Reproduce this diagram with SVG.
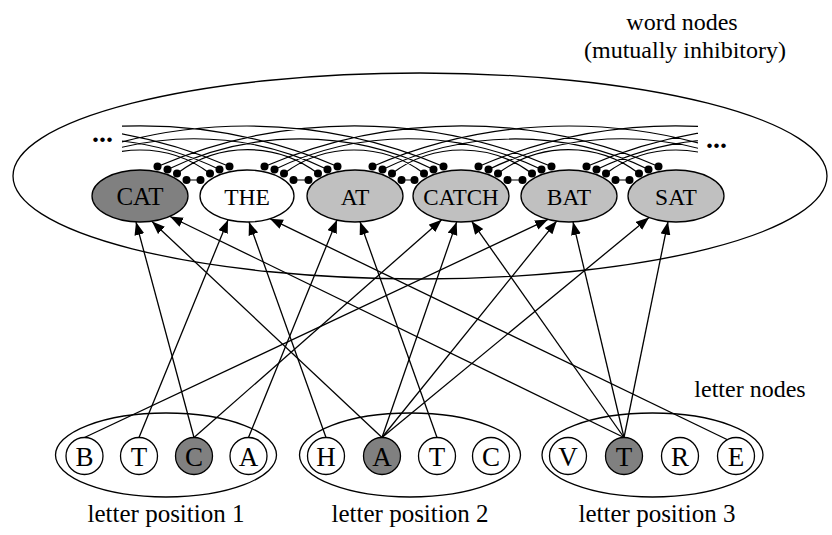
<svg xmlns="http://www.w3.org/2000/svg" width="832" height="535" viewBox="0 0 832 535">
<style>
.t{font-family:"Liberation Serif","Times New Roman",serif;fill:#000}
.ln{fill:none;stroke:#000;stroke-width:1.3}
.arc{fill:none;stroke:#000;stroke-width:1.2}
.dot{fill:#000}
.wn{stroke:#000;stroke-width:1.3}
.lc{stroke:#000;stroke-width:1.3}
.dark{fill:#808080}
.light{fill:#c0c0c0}
.white{fill:#fff}
.lbl{font-size:25px;text-anchor:middle}
</style>
<defs>
<marker id="ah" markerUnits="userSpaceOnUse" markerWidth="14" markerHeight="11" refX="13" refY="5" orient="auto">
<path d="M0,0 L13,5 L0,10 z" fill="#000"/>
</marker>
<clipPath id="band"><rect x="122" y="0" width="576" height="535"/></clipPath>
</defs>
<rect width="832" height="535" fill="#fff"/>
<g id="word-layer">
<ellipse cx="420" cy="176" rx="407" ry="103" fill="none" stroke="#000" stroke-width="1.3"/>
<text class="t" x="682" y="30" font-size="24" text-anchor="middle">word nodes</text>
<text class="t" x="685" y="58" font-size="24" text-anchor="middle">(mutually inhibitory)</text>
<text class="t" x="92" y="142" font-size="28" font-weight="bold">...</text>
<text class="t" x="706" y="148" font-size="28" font-weight="bold">...</text>
</g>
<g id="inhibitory">
<path class="arc" d="M186.5 180H200.5M293.5 180H308.5M401.5 180H414.5M507.5 180H522.5M615.5 180H629.5"/>
<g clip-path="url(#band)">
<path class="arc" d="M70 173.5A116 116 0 0 1 210 173.5M177 173.5A116 116 0 0 1 318 173.5M284 173.5A116 116 0 0 1 424 173.5M392 173.5A116 116 0 0 1 532 173.5M498 173.5A116 116 0 0 1 639 173.5M606 173.5A116 116 0 0 1 746 173.5"/>
<path class="arc" d="M-46.5 169.5A305 305 0 0 1 219.5 169.5M60.5 169.5A305 305 0 0 1 327.5 169.5M167.5 169.5A305 305 0 0 1 433.5 169.5M274.5 169.5A305 305 0 0 1 541.5 169.5M382.5 169.5A305 305 0 0 1 648.5 169.5M488.5 169.5A305 305 0 0 1 755.5 169.5M596.5 169.5A305 305 0 0 1 862.5 169.5"/>
<path class="arc" d="M-163.5 166.5A497 497 0 0 1 229.5 166.5M-56.5 166.5A497 497 0 0 1 337.5 166.5M50.5 166.5A497 497 0 0 1 443.5 166.5M157.5 166.5A497 497 0 0 1 551.5 166.5M264.5 166.5A497 497 0 0 1 658.5 166.5M372.5 166.5A497 497 0 0 1 765.5 166.5M478.5 166.5A497 497 0 0 1 872.5 166.5M586.5 166.5A497 497 0 0 1 979.5 166.5"/>
</g>
<g class="dot">
<circle cx="186.5" cy="180" r="4"/><circle cx="177" cy="173.5" r="4"/><circle cx="167.5" cy="169.5" r="4"/><circle cx="157.5" cy="166.5" r="4"/>
<circle cx="200.5" cy="180" r="4"/><circle cx="210" cy="173.5" r="4"/><circle cx="219.5" cy="169.5" r="4"/><circle cx="229.5" cy="166.5" r="4"/>
<circle cx="293.5" cy="180" r="4"/><circle cx="284" cy="173.5" r="4"/><circle cx="274.5" cy="169.5" r="4"/><circle cx="264.5" cy="166.5" r="4"/>
<circle cx="308.5" cy="180" r="4"/><circle cx="318" cy="173.5" r="4"/><circle cx="327.5" cy="169.5" r="4"/><circle cx="337.5" cy="166.5" r="4"/>
<circle cx="401.5" cy="180" r="4"/><circle cx="392" cy="173.5" r="4"/><circle cx="382.5" cy="169.5" r="4"/><circle cx="372.5" cy="166.5" r="4"/>
<circle cx="414.5" cy="180" r="4"/><circle cx="424" cy="173.5" r="4"/><circle cx="433.5" cy="169.5" r="4"/><circle cx="443.5" cy="166.5" r="4"/>
<circle cx="507.5" cy="180" r="4"/><circle cx="498" cy="173.5" r="4"/><circle cx="488.5" cy="169.5" r="4"/><circle cx="478.5" cy="166.5" r="4"/>
<circle cx="522.5" cy="180" r="4"/><circle cx="532" cy="173.5" r="4"/><circle cx="541.5" cy="169.5" r="4"/><circle cx="551.5" cy="166.5" r="4"/>
<circle cx="615.5" cy="180" r="4"/><circle cx="606" cy="173.5" r="4"/><circle cx="596.5" cy="169.5" r="4"/><circle cx="586.5" cy="166.5" r="4"/>
<circle cx="629.5" cy="180" r="4"/><circle cx="639" cy="173.5" r="4"/><circle cx="648.5" cy="169.5" r="4"/><circle cx="658.5" cy="166.5" r="4"/>
</g>
</g>
<g id="w-CAT"><ellipse class="wn dark" cx="140" cy="196" rx="48" ry="26"/><text class="t" x="140" y="204.5" font-size="25" text-anchor="middle">CAT</text></g>
<g id="w-THE"><ellipse class="wn white" cx="247" cy="196" rx="47" ry="26"/><text class="t" x="247" y="204.5" font-size="23.5" text-anchor="middle">THE</text></g>
<g id="w-AT"><ellipse class="wn light" cx="355" cy="196" rx="48" ry="26"/><text class="t" x="355" y="204.5" font-size="23.5" text-anchor="middle">AT</text></g>
<g id="w-CATCH"><ellipse class="wn light" cx="461" cy="196" rx="48" ry="26"/><text class="t" x="461" y="204.5" font-size="23" text-anchor="middle">CATCH</text></g>
<g id="w-BAT"><ellipse class="wn light" cx="569" cy="196" rx="48" ry="26"/><text class="t" x="569" y="204.5" font-size="23.5" text-anchor="middle">BAT</text></g>
<g id="w-SAT"><ellipse class="wn light" cx="676" cy="196" rx="48" ry="26"/><text class="t" x="676" y="204.5" font-size="23.5" text-anchor="middle">SAT</text></g>
<g id="connectors" class="ln" marker-end="url(#ah)">
<path d="M194 437.5L136 222"/>
<path d="M382 437.5L152 221.5"/>
<path d="M624 437.5L170 216.5"/>
<path d="M139 437.5L228 220"/>
<path d="M326 437.5L249 222"/>
<path d="M728 440L270 218.7"/>
<path d="M248.5 437.5L337 220"/>
<path d="M437 437.5L360 221.8"/>
<path d="M194 437.5L441.7 219.8"/>
<path d="M382 437.5L456.7 221.9"/>
<path d="M624 437.5L471.7 221.3"/>
<path d="M84.5 437.5L548 219.4"/>
<path d="M382 437.5L556.7 221.1"/>
<path d="M624 437.5L573 221.9"/>
<path d="M382 437.5L649 217.5"/>
<path d="M624 437.5L668 221.7"/>
</g>
<g id="pos1">
<ellipse cx="166" cy="455" rx="110.5" ry="42" fill="none" stroke="#000" stroke-width="1.3"/>
<g id="p1-B"><circle class="lc white" cx="84.5" cy="456" r="18.5"/><text class="t" x="84.5" y="465.5" font-size="27" text-anchor="middle">B</text></g>
<g id="p1-T"><circle class="lc white" cx="139" cy="456" r="18.5"/><text class="t" x="139" y="465.5" font-size="27" text-anchor="middle">T</text></g>
<g id="p1-C"><circle class="lc dark" cx="194" cy="456" r="18.5"/><text class="t" x="194" y="465.5" font-size="27" text-anchor="middle">C</text></g>
<g id="p1-A"><circle class="lc white" cx="248.5" cy="456" r="18.5"/><text class="t" x="248.5" y="465.5" font-size="27" text-anchor="middle">A</text></g>
<text class="t lbl" x="166" y="522">letter position 1</text>
</g>
<g id="pos2">
<ellipse cx="410" cy="455" rx="110.5" ry="42" fill="none" stroke="#000" stroke-width="1.3"/>
<g id="p2-H"><circle class="lc white" cx="326" cy="456" r="18.5"/><text class="t" x="326" y="465.5" font-size="27" text-anchor="middle">H</text></g>
<g id="p2-A"><circle class="lc dark" cx="382" cy="456" r="18.5"/><text class="t" x="382" y="465.5" font-size="27" text-anchor="middle">A</text></g>
<g id="p2-T"><circle class="lc white" cx="437" cy="456" r="18.5"/><text class="t" x="437" y="465.5" font-size="27" text-anchor="middle">T</text></g>
<g id="p2-C"><circle class="lc white" cx="491" cy="456" r="18.5"/><text class="t" x="491" y="465.5" font-size="27" text-anchor="middle">C</text></g>
<text class="t lbl" x="410" y="522">letter position 2</text>
</g>
<g id="pos3">
<ellipse cx="652.5" cy="455" rx="110.5" ry="42" fill="none" stroke="#000" stroke-width="1.3"/>
<g id="p3-V"><circle class="lc white" cx="568" cy="456" r="18.5"/><text class="t" x="568" y="465.5" font-size="27" text-anchor="middle">V</text></g>
<g id="p3-T"><circle class="lc dark" cx="624" cy="456" r="18.5"/><text class="t" x="624" y="465.5" font-size="27" text-anchor="middle">T</text></g>
<g id="p3-R"><circle class="lc white" cx="680" cy="456" r="18.5"/><text class="t" x="680" y="465.5" font-size="27" text-anchor="middle">R</text></g>
<g id="p3-E"><circle class="lc white" cx="736" cy="456" r="18.5"/><text class="t" x="736" y="465.5" font-size="27" text-anchor="middle">E</text></g>
<text class="t lbl" x="657" y="522">letter position 3</text>
</g>
<text class="t" x="750" y="397" font-size="24" text-anchor="middle">letter nodes</text>
</svg>
